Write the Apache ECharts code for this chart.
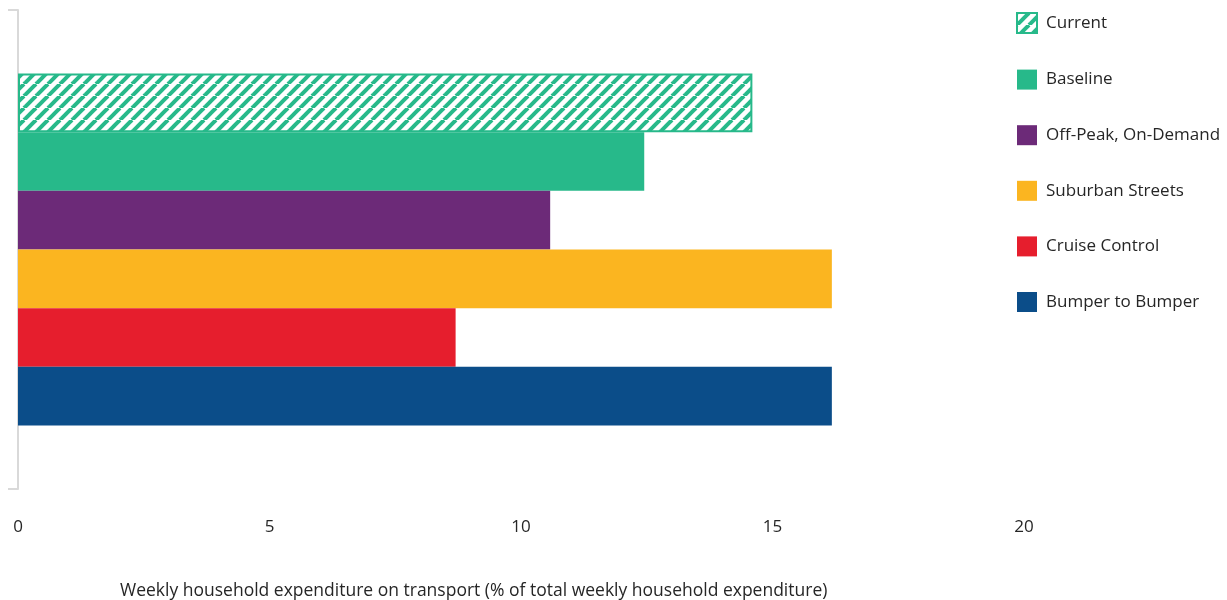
<!DOCTYPE html>
<html>
<head>
<meta charset="utf-8">
<script src="https://cdn.jsdelivr.net/npm/echarts@6/dist/echarts.min.js"></script>
<style>
html,body{margin:0;padding:0;background:#fff;}
#chart{width:1227px;height:600px;}
</style>
</head>
<body>
<div id="chart"></div>
<script>
const categories = ['Weekly household expenditure'];
const seriesNames = ['Current', 'Baseline', 'Off-Peak, On-Demand', 'Suburban Streets', 'Cruise Control', 'Bumper to Bumper'];
const seriesValues = [14.6, 12.45, 10.58, 16.18, 8.7, 16.18];
const seriesColors = ['#27B98A', '#27B98A', '#6C2A78', '#FBB520', '#E61E2D', '#0B4D89'];
const xTicks = [0, 5, 10, 15, 20];
const xTitle = 'Weekly household expenditure on transport (% of total weekly household expenditure)';

function hatch(color) {
  const p = 12;
  const c = document.createElement('canvas');
  c.width = p; c.height = p;
  const ctx = c.getContext('2d');
  ctx.fillStyle = '#fff';
  ctx.fillRect(0, 0, p, p);
  ctx.strokeStyle = color;
  ctx.lineWidth = 4;
  for (let k = -1; k <= 1; k++) {
    ctx.beginPath();
    ctx.moveTo(k * p, p);
    ctx.lineTo(k * p + p, 0);
    ctx.stroke();
  }
  return c;
}

const chart = echarts.init(document.getElementById('chart'), null, {renderer: 'canvas'});
const series = seriesNames.map((name, i) => {
  const s = {
    name: name,
    type: 'bar',
    data: [seriesValues[i]],
    barGap: '0%',
    barCategoryGap: '26.5%',
    itemStyle: {color: seriesColors[i]}
  };
  if (i === 0) {
    s.itemStyle = {
      color: {image: hatch(seriesColors[0]), repeat: 'repeat'},
      borderColor: seriesColors[0],
      borderWidth: 2
    };
  }
  return s;
});

chart.setOption({
  animation: false,
  backgroundColor: '#fff',
  textStyle: {fontFamily: 'Open Sans'},
  title: {
    text: xTitle,
    left: 115,
    top: 577,
    textStyle: {fontSize: 17.5, fontWeight: 'normal', color: '#262626', fontFamily: 'Open Sans'}
  },
  legend: {
    orient: 'vertical',
    left: 1011,
    top: 7,
    itemWidth: 20,
    itemHeight: 20,
    itemGap: 35.6,
    icon: 'rect',
    textStyle: {fontSize: 17, color: '#262626', fontFamily: 'Open Sans', padding: [0, 0, 0, 4]},
    data: seriesNames
  },
  grid: {left: 18, right: 203, top: 10, bottom: 111, containLabel: false},
  xAxis: {
    type: 'value',
    min: xTicks[0],
    max: xTicks[xTicks.length - 1],
    interval: 5,
    axisLine: {show: false},
    axisTick: {show: false},
    splitLine: {show: false},
    axisLabel: {fontSize: 17, color: '#262626', margin: 30, fontFamily: 'Open Sans'}
  },
  yAxis: {
    type: 'category',
    data: categories,
    inverse: true,
    axisLine: {show: true, lineStyle: {color: '#d9d9d9', width: 2}},
    axisTick: {show: true, length: 10, lineStyle: {color: '#d9d9d9', width: 2}},
    axisLabel: {show: false}
  },
  series: series
});
</script>
</body>
</html>
